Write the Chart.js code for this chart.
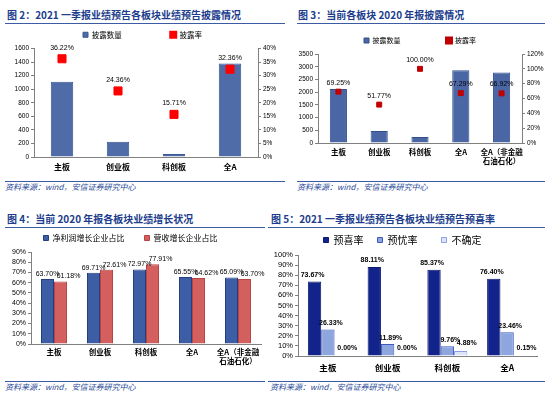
<!DOCTYPE html>
<html>
<head>
<meta charset="utf-8">
<script src="https://cdn.jsdelivr.net/npm/chart.js@4.4.1/dist/chart.umd.min.js"></script>
<style>
body { margin: 0; width: 550px; height: 396px; background: #fff; position: relative; overflow: hidden; font-family: 'Noto Sans CJK SC', sans-serif; }
.title { position: absolute; font-size: 10px; font-weight: bold; color: #203c8c; white-space: nowrap; line-height: 12px; }
.rule { position: absolute; height: 0; border-top: 1.5px solid #3b5ba5; }
.src { position: absolute; font-size: 8px; font-style: italic; color: #2a4a9a; white-space: nowrap; line-height: 10px; }
canvas { position: absolute; }
</style>
</head>
<body>
<div class="title" style="left:7px;top:9px">图 2：2021 一季报业绩预告各板块业绩预告披露情况</div>
<div class="rule" style="left:5px;top:23px;width:280px"></div>
<div class="rule" style="left:5px;top:181px;width:280px"></div>
<div class="src" style="left:5px;top:182px">资料来源：wind，安信证券研究中心</div>

<div class="title" style="left:298px;top:9px">图 3：当前各板块 2020 年报披露情况</div>
<div class="rule" style="left:297px;top:23px;width:248px"></div>
<div class="rule" style="left:297px;top:181px;width:248px"></div>
<div class="src" style="left:297px;top:182px">资料来源：wind，安信证券研究中心</div>

<div class="title" style="left:7px;top:213px">图 4：当前 2020 年报各板块业绩增长状况</div>
<div class="rule" style="left:5px;top:227px;width:260px"></div>
<div class="rule" style="left:5px;top:381px;width:260px"></div>
<div class="src" style="left:5px;top:382px">资料来源：wind，安信证券研究中心</div>

<div class="title" style="left:271px;top:213px">图 5：2021 一季报业绩预告各板块业绩预告预喜率</div>
<div class="rule" style="left:268px;top:227px;width:277px"></div>
<div class="rule" style="left:268px;top:381px;width:277px"></div>
<div class="src" style="left:270px;top:382px">资料来源：wind，安信证券研究中心</div>

<canvas id="c1" width="285" height="152" style="left:0;top:26px"></canvas>
<canvas id="c2" width="260" height="152" style="left:290px;top:26px"></canvas>
<canvas id="c3" width="288" height="150" style="left:0;top:230px"></canvas>
<canvas id="c4" width="298" height="150" style="left:268px;top:230px"></canvas>

<script>
// 图2: 2021 Q1 preview disclosure
const q1Boards = ['主板', '创业板', '科创板', '全A'];
const q1Count = [1110, 225, 45, 1380];
const q1Rate = [36.22, 24.36, 15.71, 32.36];

// 图3: 2020 annual report disclosure
const annualBoards = ['主板', '创业板', '科创板', '全A', ['全A（非金融', '石油石化）']];
const annualCount = [2125, 470, 235, 2860, 2775];
const annualRate = [69.25, 51.77, 100.00, 67.29, 66.92];

// 图4: growth share
const growthBoards = annualBoards;
const profitGrowthShare = [63.70, 69.71, 72.97, 65.55, 65.09];
const revenueGrowthShare = [61.18, 72.61, 77.91, 64.62, 63.70];

// 图5: Q1 preview positive rate
const previewBoards = ['主板', '创业板', '科创板', '全A'];
const positiveRate = [73.67, 88.11, 85.37, 76.40];
const negativeRate = [26.33, 11.89, 9.76, 23.46];
const uncertainRate = [0.00, 0.00, 4.88, 0.15];

const cjk = "'Noto Sans CJK SC', sans-serif";
Chart.defaults.font.family = "'Liberation Sans', 'Noto Sans CJK SC', sans-serif";
Chart.defaults.color = '#000';
Chart.defaults.animation = false;
Chart.defaults.plugins.tooltip.enabled = false;

const axisGrey = '#808080';

const valueLabels = {
  id: 'valueLabels',
  afterDatasetsDraw(chart, args, opts) {
    if (!opts.shift) return;
    const ctx = chart.ctx;
    ctx.save();
    ctx.font = opts.font;
    ctx.fillStyle = '#000';
    ctx.textAlign = 'center';
    ctx.textBaseline = 'middle';
    chart.data.datasets.forEach((ds, i) => {
      const s = opts.shift[i];
      if (!s) return;
      chart.getDatasetMeta(i).data.forEach((el, j) => {
        ctx.fillText(ds.data[j].toFixed(2) + '%', el.x + s[0], el.y - s[1]);
      });
    });
    ctx.restore();
  }
};
Chart.register(valueLabels);

// legend items get extra ideographic spaces so the gaps match the picture
function legendOpts(size, spaces) {
  return {
    position: 'top',
    labels: {
      boxWidth: 5, boxHeight: 5, padding: 4,
      font: { size: size, family: cjk },
      generateLabels(chart) {
        const items = Chart.defaults.plugins.legend.labels.generateLabels(chart);
        items.sort((a, b) => a.datasetIndex - b.datasetIndex);
        items.forEach((it, i) => { if (spaces[i]) it.text += '\u3000'.repeat(spaces[i]); });
        return items;
      }
    }
  };
}

function yAxis(pos, min, max, step, width, size, pct) {
  return {
    position: pos, min: min, max: max,
    grid: { drawOnChartArea: false, tickLength: 3, color: axisGrey },
    border: { color: axisGrey },
    ticks: { stepSize: step, autoSkip: false, padding: 2, font: { size: size }, callback: v => pct ? v + '%' : v },
    afterFit(s) { s.width = width; }
  };
}

function xAxis(height, pad, size, bold) {
  return {
    grid: { display: false, drawTicks: false },
    border: { color: axisGrey },
    ticks: { padding: pad, maxRotation: 0, autoSkip: false, font: { size: size, family: cjk, weight: bold ? 'bold' : 'normal', lineHeight: 1.15 } },
    afterFit(s) { s.height = height; }
  };
}

new Chart(document.getElementById('c1'), {
  type: 'bar',
  data: {
    labels: q1Boards,
    datasets: [
      { label: '披露数量', data: q1Count, yAxisID: 'y', backgroundColor: '#4f6ba8', borderColor: '#3a5590', borderWidth: 1, categoryPercentage: 1, barPercentage: 0.4, order: 2 },
      { type: 'line', label: '披露率', data: q1Rate, yAxisID: 'y1', showLine: false, pointStyle: 'rect', pointRadius: 5.7, backgroundColor: '#ff0000', borderColor: '#ff0000', order: 1 }
    ]
  },
  options: {
    responsive: false,
    layout: { padding: { top: 1, right: 0, bottom: 0, left: 0 } },
    plugins: {
      legend: legendOpts(7.5, [6]),
      valueLabels: { font: "7px 'Liberation Sans'", shift: [null, [0, 11]] }
    },
    scales: {
      x: xAxis(21, 5, 8, true),
      y: yAxis('left', 0, 1600, 200, 34, 6.5, false),
      y1: yAxis('right', 0, 40, 5, 27, 6.5, true)
    }
  }
});

new Chart(document.getElementById('c2'), {
  type: 'bar',
  data: {
    labels: annualBoards,
    datasets: [
      { label: '披露数量', data: annualCount, yAxisID: 'y', backgroundColor: '#4a66a5', borderColor: '#34508c', borderWidth: 1, categoryPercentage: 1, barPercentage: 0.42, order: 2 },
      { type: 'line', label: '披露率', data: annualRate, yAxisID: 'y1', showLine: false, pointStyle: 'rect', pointRadius: 3.5, backgroundColor: '#c00000', borderColor: '#c00000', order: 1 }
    ]
  },
  options: {
    responsive: false,
    layout: { padding: { top: 7, right: 0, bottom: 0, left: 0 } },
    plugins: {
      legend: legendOpts(7, [6]),
      valueLabels: { font: "7px 'Liberation Sans'", shift: [null, [0, 9]] }
    },
    scales: {
      x: xAxis(35, 5, 7.5, true),
      y: yAxis('left', 0, 3500, 500, 28, 6.5, false),
      y1: yAxis('right', 0, 120, 20, 28, 6.5, true)
    }
  }
});

new Chart(document.getElementById('c3'), {
  type: 'bar',
  data: {
    labels: growthBoards,
    datasets: [
      { label: '净利润增长企业占比', data: profitGrowthShare, backgroundColor: '#3d5da5', borderColor: '#233f82', borderWidth: 1, categoryPercentage: 0.565, barPercentage: 1 },
      { label: '营收增长企业占比', data: revenueGrowthShare, backgroundColor: '#d45f5f', borderColor: '#b54545', borderWidth: 1, categoryPercentage: 0.565, barPercentage: 1 }
    ]
  },
  options: {
    responsive: false,
    layout: { padding: { top: 0, right: 27, bottom: 0, left: 0 } },
    plugins: {
      legend: legendOpts(8, [2]),
      valueLabels: { font: "7px 'Liberation Sans'", shift: [[0, 5], [8, 5]] }
    },
    scales: {
      x: xAxis(36, 4, 7.5, true),
      y: yAxis('left', 0, 90, 10, 31, 7, true)
    }
  }
});

new Chart(document.getElementById('c4'), {
  type: 'bar',
  data: {
    labels: previewBoards,
    datasets: [
      { label: '预喜率', data: positiveRate, backgroundColor: '#13238c', borderColor: '#0d1a70', borderWidth: 1, categoryPercentage: 0.67, barPercentage: 1 },
      { label: '预忧率', data: negativeRate, backgroundColor: '#8ea6de', borderColor: '#3f59c0', borderWidth: 1, categoryPercentage: 0.67, barPercentage: 1 },
      { label: '不确定', data: uncertainRate, backgroundColor: '#dde5fa', borderColor: '#8d9ee6', borderWidth: 1, categoryPercentage: 0.67, barPercentage: 1 }
    ]
  },
  options: {
    responsive: false,
    layout: { padding: { top: 1, right: 29, bottom: 0, left: 0 } },
    plugins: {
      legend: legendOpts(10, [1, 2]),
      valueLabels: { font: "bold 7px 'Liberation Sans'", shift: [[-2, 7], [3, 6], [6, 8]] }
    },
    scales: {
      x: xAxis(24, 7, 8.5, true),
      y: yAxis('left', 0, 100, 10, 30, 7.5, true)
    }
  }
});
</script>
</body>
</html>
